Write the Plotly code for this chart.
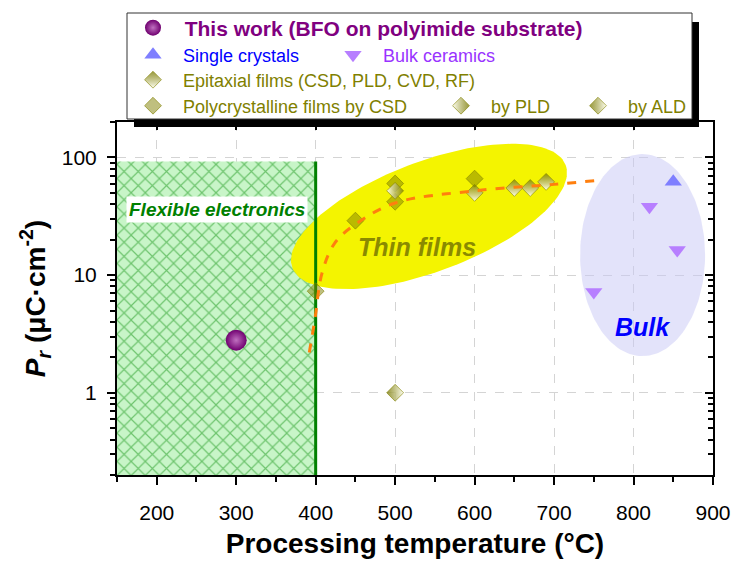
import numpy as np
import plotly.graph_objects as go

# ---------------- data ----------------
this_x = [300]
this_y = [2.8]
sc_x = [850]
sc_y = [62]
bulk_x = [750, 820, 855]
bulk_y = [7.2, 38, 16.3]
epi_x = [600, 650, 670, 690]
epi_y = [50, 55, 55, 62]
poly_x = [400, 450, 500, 500, 600]
poly_y = [7.3, 29, 60, 42, 66]
pld_x = [500]
pld_y = [52]
ald_x = [500]
ald_y = [1.0]
# guide curve
curve_x = [392, 399, 408, 424, 450, 500, 600, 700, 752]
curve_y = [2.2, 4.2, 10.4, 18.7, 27, 41, 52, 59, 63.5]
# flexible-electronics region
flex_x = [150, 400]
flex_ymax = 92.5

X_RANGE = [150, 900]
Y_RANGE = [0.2, 200]
W, H = 732, 562
M = dict(l=117, r=19, t=122, b=87, autoexpand=False)
PLOT_W = W - M["l"] - M["r"]
PLOT_H = H - M["t"] - M["b"]
PX_PER_X = PLOT_W / (X_RANGE[1] - X_RANGE[0])
PX_PER_DEC = PLOT_H / (np.log10(Y_RANGE[1]) - np.log10(Y_RANGE[0]))

FONT = "Arial, 'Liberation Sans', sans-serif"
OLIVE = "#808000"
OLIVE_FILL = "rgba(128,128,0,0.5)"
OLIVE_DARK = "rgba(120,120,0,0.75)"
OLIVE_LINE = "rgba(128,128,0,0.6)"
LIGHT = "rgba(255,255,240,0.95)"


def ellipse(cx, cy, a_px, b_px, ang_deg, n=160):
    t = np.linspace(0, 2 * np.pi, n)
    th = np.radians(ang_deg)
    dx = a_px * np.cos(t) * np.cos(th) - b_px * np.sin(t) * np.sin(th)
    dy = a_px * np.cos(t) * np.sin(th) + b_px * np.sin(t) * np.cos(th)
    return cx + dx / PX_PER_X, 10 ** (np.log10(cy) + dy / PX_PER_DEC)


fig = go.Figure()

# hatched flexible-electronics region
fig.add_trace(go.Scatter(
    x=[flex_x[0], flex_x[1], flex_x[1], flex_x[0], flex_x[0]],
    y=[Y_RANGE[0], Y_RANGE[0], flex_ymax, flex_ymax, Y_RANGE[0]],
    mode="lines", fill="toself", line=dict(width=0),
    fillpattern=dict(shape="x", fgcolor="#139313", bgcolor="#c8f5c8", size=10, solidity=0.22),
    showlegend=False, hoverinfo="skip"))

# thin film ellipse
ex, ey = ellipse(542.6, 31.5, 146, 55, 20.6)
fig.add_trace(go.Scatter(x=ex, y=ey, mode="lines", fill="toself", fillcolor="#f4f400",
                         line=dict(width=0), showlegend=False, hoverinfo="skip"))
# bulk ellipse
bx, by = ellipse(811.4, 14.8, 62.5, 101, 0)
fig.add_trace(go.Scatter(x=bx, y=by, mode="lines", fill="toself", fillcolor="rgba(200,200,245,0.5)",
                         line=dict(width=0), showlegend=False, hoverinfo="skip"))

# green boundary line
fig.add_trace(go.Scatter(x=[flex_x[1], flex_x[1]], y=[Y_RANGE[0], flex_ymax], mode="lines",
                         line=dict(color="#008000", width=3), showlegend=False, hoverinfo="skip"))

NB = "\u00a0\u00a0"
# data traces
fig.add_trace(go.Scatter(x=this_x, y=this_y, mode="markers", name=NB + "<b>This work (BFO on polyimide substrate)</b>",
                         marker=dict(symbol="circle", size=21, color="#700070",
                                     gradient=dict(type="radial", color="#c070c0"), line=dict(width=0)),
                         legend="legend"))
fig.add_trace(go.Scatter(x=sc_x, y=sc_y, mode="markers", name=NB + "Single crystals",
                         marker=dict(symbol="triangle-up", size=15, color="#7f7fff", line=dict(width=0)),
                         legend="legend2"))
fig.add_trace(go.Scatter(x=bulk_x, y=bulk_y, mode="markers", name=NB + "Bulk ceramics",
                         marker=dict(symbol="triangle-down", size=15, color="#b77fff", line=dict(width=0)),
                         legend="legend3"))
fig.add_trace(go.Scatter(x=epi_x, y=epi_y, mode="markers", name=NB + "Epitaxial films (CSD, PLD, CVD, RF)",
                         marker=dict(symbol="diamond", size=13, color=OLIVE_DARK,
                                     gradient=dict(type="vertical", color=LIGHT),
                                     line=dict(color=OLIVE_LINE, width=1)),
                         legend="legend4"))
fig.add_trace(go.Scatter(x=poly_x, y=poly_y, mode="markers", name=NB + "Polycrystalline films by CSD",
                         marker=dict(symbol="diamond", size=13, color=OLIVE_FILL,
                                     line=dict(color=OLIVE_LINE, width=1)),
                         legend="legend5"))
fig.add_trace(go.Scatter(x=pld_x, y=pld_y, mode="markers", name=NB + "by PLD",
                         marker=dict(symbol="diamond", size=13, color=LIGHT,
                                     gradient=dict(type="horizontal", color=OLIVE_DARK),
                                     line=dict(color=OLIVE_LINE, width=1)),
                         legend="legend6"))
fig.add_trace(go.Scatter(x=ald_x, y=ald_y, mode="markers", name=NB + "by ALD",
                         marker=dict(symbol="diamond", size=13, color=OLIVE_DARK,
                                     gradient=dict(type="horizontal", color=LIGHT),
                                     line=dict(color=OLIVE_LINE, width=1)),
                         legend="legend7"))

# dashed guide
fig.add_trace(go.Scatter(x=curve_x, y=curve_y, mode="lines",
                         line=dict(color="#ff7f0e", width=3, dash="dash", shape="spline", smoothing=1.0),
                         showlegend=False, hoverinfo="skip"))

# dummy for mirrored axes
fig.add_trace(go.Scatter(x=[None], y=[None], xaxis="x2", yaxis="y2", showlegend=False, hoverinfo="skip"))


def px_to_paper_x(px):
    return (px - M["l"]) / PLOT_W


def px_to_paper_y(py):
    return (H - M["b"] - py) / PLOT_H


def leg(px_start, py_center, color, size):
    return dict(x=px_to_paper_x(px_start), y=px_to_paper_y(py_center), xanchor="left", yanchor="middle",
                bgcolor="rgba(0,0,0,0)", borderwidth=0, font=dict(family=FONT, size=size, color=color),
                itemsizing="trace", tracegroupgap=0)


rows = [28, 55, 80, 106]
fig.update_layout(
    legend=leg(133, rows[0], "#800080", 21),
    legend2=leg(133, rows[1], "#0000ff", 18),
    legend3=leg(333, rows[1], "#9933ff", 18),
    legend4=leg(133, rows[2], OLIVE, 18),
    legend5=leg(133, rows[3], OLIVE, 18),
    legend6=leg(441, rows[3], OLIVE, 18),
    legend7=leg(578, rows[3], OLIVE, 18),
)

# legend frame with shadow
fig.add_shape(type="rect", xref="paper", yref="paper", layer="above",
              x0=px_to_paper_x(134), x1=px_to_paper_x(699), y0=px_to_paper_y(127), y1=px_to_paper_y(22),
              fillcolor="black", line=dict(width=0))
fig.add_shape(type="rect", xref="paper", yref="paper", layer="above",
              x0=px_to_paper_x(127), x1=px_to_paper_x(692), y0=px_to_paper_y(119), y1=px_to_paper_y(13),
              fillcolor="white", line=dict(color="#333333", width=1))

# annotations
fig.add_annotation(x=275.8, y=np.log10(36), text="<b><i>Flexible electronics</i></b>", showarrow=False,
                   font=dict(family=FONT, size=19, color="#008000"), bgcolor="white", borderpad=2)
fig.add_annotation(x=527, y=np.log10(17.3), text="<b><i>Thin films</i></b>", showarrow=False,
                   font=dict(family=FONT, size=25, color="#8a8a00"))
fig.add_annotation(x=811.6, y=np.log10(3.63), text="<b><i>Bulk</i></b>", showarrow=False,
                   font=dict(family=FONT, size=25, color="#0000ff"))

axis_common = dict(showline=True, linecolor="black", linewidth=2, tickcolor="black", tickwidth=2,
                   ticklen=8, tickfont=dict(family=FONT, size=21, color="black"))
fig.update_layout(
    width=W, height=H, margin=M, plot_bgcolor="white", paper_bgcolor="white",
    xaxis=dict(range=X_RANGE, dtick=100, ticks="outside", showgrid=True, gridcolor="#d4d4d4",
               griddash="dash", gridwidth=1, zeroline=False, ticklabelstandoff=10, automargin=False,
               minor=dict(dtick=50, ticks="outside", ticklen=5, tickwidth=1.5, tickcolor="black", showgrid=False),
               title=dict(text="<b>Processing temperature (°C)</b>", font=dict(family=FONT, size=28, color="black"),
                          standoff=10),
               **axis_common),
    yaxis=dict(type="log", range=[np.log10(Y_RANGE[0]), np.log10(Y_RANGE[1])], dtick=1, ticks="outside",
               showgrid=True, gridcolor="#d4d4d4", griddash="dash", gridwidth=1, zeroline=False,
               exponentformat="none", ticklabelstandoff=6, automargin=False,
               minor=dict(dtick="D1", ticks="outside", ticklen=5, tickwidth=1.5, tickcolor="black", showgrid=False),
               title=dict(text="<b><i>P</i><sub><i>r</i></sub> (μC·cm<sup>-2</sup>)</b>",
                          font=dict(family=FONT, size=28, color="black"), standoff=8),
               **axis_common),
    xaxis2=dict(range=X_RANGE, dtick=100, overlaying="x", side="top", anchor="y2", ticks="inside",
                showticklabels=False, showgrid=False, zeroline=False, automargin=False,
                minor=dict(dtick=50, ticks="inside", ticklen=5, tickwidth=1.5, tickcolor="black"),
                **axis_common),
    yaxis2=dict(type="log", range=[np.log10(Y_RANGE[0]), np.log10(Y_RANGE[1])], dtick=1, overlaying="y",
                side="right", anchor="x2", ticks="inside", showticklabels=False, showgrid=False, zeroline=False,
                automargin=False,
                minor=dict(dtick="D1", ticks="inside", ticklen=5, tickwidth=1.5, tickcolor="black"),
                **axis_common),
    showlegend=True,
)

fig.write_html("out.html")
